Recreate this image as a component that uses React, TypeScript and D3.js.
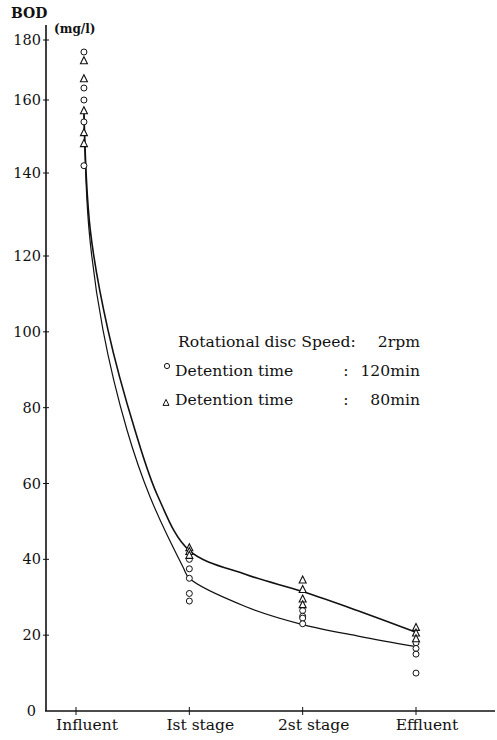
import React from "react";
import * as d3 from "d3";

// ---- data ----
const categories = ["Influent", "Ist stage", "2st stage", "Effluent"];
const yTicks = [0, 20, 40, 60, 80, 100, 120, 140, 160, 180];

// measured BOD (mg/l), one list per category
const circles120 = [
  [176, 164, 160, 154, 142],
  [40, 37.5, 35, 31, 29],
  [26.5, 25, 24.5, 23],
  [18, 16.5, 15, 10],
];
const triangles80 = [
  [173, 167, 157, 151, 148],
  [43, 42, 41],
  [34.5, 32, 29.5, 28],
  [22, 20.5, 19],
];

// fitted curves: [category position, BOD]
const curve120: [number, number][] = [
  [0.07, 156], [0.115, 126.3], [0.238, 100.5], [0.45, 74.1],
  [0.653, 56.5], [0.944, 38], [1, 35], [1.5, 27.5], [2, 22.8], [2.5, 19.7], [3, 17],
];
const curve80: [number, number][] = [
  [0.07, 157], [0.126, 126.3], [0.282, 100.5], [0.52, 74.1],
  [0.724, 56.5], [1, 42.3], [1.5, 36.0], [2, 31.5], [2.5, 26.3], [3, 20.8],
];

const legendLines = [
  { marker: "", label: "Rotational disc Speed:", value: "2rpm", colon: "" },
  { marker: "circle", label: "Detention time", value: "120min", colon: ":" },
  { marker: "triangle", label: "Detention time", value: "80min", colon: ":" },
];

// ---- layout ----
const W = 497;
const H = 740;
const axisX = 46;
const font = "'DejaVu Serif', 'Liberation Serif', serif";
const influentShift = 0.07;

export default function App() {
  const x = d3.scaleLinear().domain([0, 3]).range([76, 416]);
  // the scanned axis is slightly non-uniform: piecewise linear scale
  const y = d3
    .scaleLinear()
    .domain([0, 120, 140, 160, 180])
    .range([711, 256, 173, 100, 40]);

  const line = d3
    .line<[number, number]>()
    .x((d) => x(d[0]))
    .y((d) => y(d[1]))
    .curve(d3.curveCatmullRom.alpha(0.5));

  const px = (i: number) => x(i + (i === 0 ? influentShift : 0));
  const tri = (cx: number, cy: number, s: number) =>
    `M${cx},${cy - s * 0.6}L${cx + s / 2},${cy + s * 0.4}L${cx - s / 2},${cy + s * 0.4}Z`;

  return (
    <svg
      width={W}
      height={H}
      style={{ position: "absolute", left: 0, top: 0, background: "#fff" }}
      fontFamily={font}
    >
      <rect width={W} height={H} fill="#fff" />
      {/* titles */}
      <text x={11} y={18} fontSize={14} fontWeight="bold" fill="#111">
        BOD
      </text>
      <text x={54} y={33} fontSize={12} fontWeight="bold" fill="#111">
        (mg/l)
      </text>

      {/* y axis */}
      <line x1={axisX} x2={axisX} y1={25} y2={y(0)} stroke="#111" strokeWidth={1.6} />
      {yTicks.map((t) => (
        <g key={t}>
          {t > 0 && (
            <line x1={axisX - 3} x2={axisX + 3} y1={y(t)} y2={y(t)} stroke="#111" strokeWidth={1} />
          )}
          <text
            x={t === 0 ? 36 : 41}
            y={y(t) + 5}
            fontSize={14.5}
            textAnchor="end"
            fill="#111"
          >
            {t}
          </text>
        </g>
      ))}

      {/* x axis */}
      <line x1={axisX - 1} x2={495} y1={y(0)} y2={y(0)} stroke="#111" strokeWidth={1.6} />
      {categories.map((c, i) => (
        <g key={c}>
          <line x1={x(i)} x2={x(i)} y1={y(0) - 4} y2={y(0) + 4} stroke="#111" strokeWidth={1} />
          <text x={x(i) + 11} y={730} fontSize={15.5} textAnchor="middle" fill="#111">
            {c}
          </text>
        </g>
      ))}

      {/* fitted curves */}
      <path d={line(curve80) || ""} fill="none" stroke="#111" strokeWidth={1.6} />
      <path d={line(curve120) || ""} fill="none" stroke="#111" strokeWidth={1.2} />

      {/* measured points */}
      {circles120.map((vals, i) =>
        vals.map((v, j) => (
          <circle
            key={`c${i}-${j}`}
            cx={px(i)}
            cy={y(v)}
            r={3}
            fill="#fff"
            stroke="#111"
            strokeWidth={1}
          />
        ))
      )}
      {triangles80.map((vals, i) =>
        vals.map((v, j) => (
          <path
            key={`t${i}-${j}`}
            d={tri(px(i), y(v), 7)}
            fill="#fff"
            stroke="#111"
            strokeWidth={1.1}
          />
        ))
      )}

      {/* legend */}
      {legendLines.map((l, i) => {
        const by = 347 + i * 29;
        return (
          <g key={i} fontSize={15.6} fill="#111">
            {l.marker === "circle" && (
              <circle cx={167} cy={by - 10} r={2.6} fill="#fff" stroke="#111" strokeWidth={1} />
            )}
            {l.marker === "triangle" && (
              <path d={tri(166, by - 2, 6)} fill="#fff" stroke="#111" strokeWidth={1} />
            )}
            <text x={i === 0 ? 178 : 175} y={by}>
              {l.label}
            </text>
            {l.colon && (
              <text x={346} y={by} textAnchor="middle">
                {l.colon}
              </text>
            )}
            <text x={420} y={by} textAnchor="end">
              {l.value}
            </text>
          </g>
        );
      })}
    </svg>
  );
}
